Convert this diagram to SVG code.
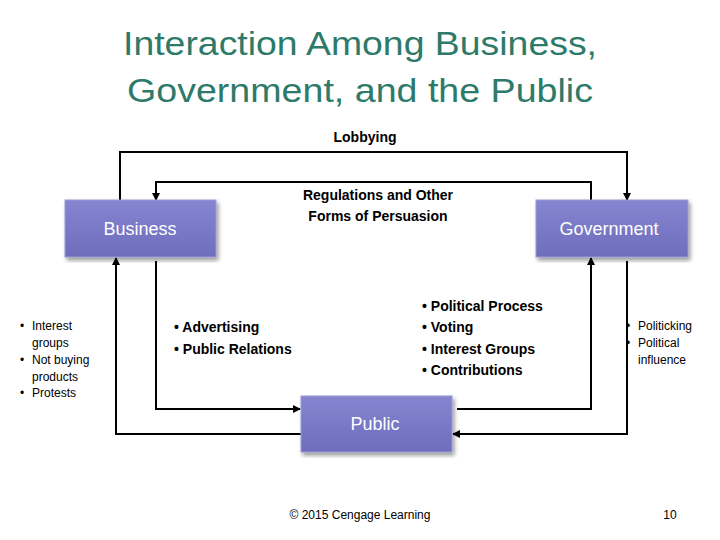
<svg xmlns="http://www.w3.org/2000/svg" width="720" height="540" viewBox="0 0 720 540">
<style>
.t{font-family:"Liberation Sans",Arial,sans-serif}
.box{fill:url(#g);stroke:#9a9ad0;stroke-width:1}
.bl{font-family:"Liberation Sans",Arial,sans-serif;font-size:18px;fill:#fff;text-anchor:middle}
.c{fill:none;stroke:#000;stroke-width:2;marker-end:url(#a)}
.s{font-family:"Liberation Sans",Arial,sans-serif;font-size:14px;font-weight:bold;fill:#000}
.xs{font-family:"Liberation Sans",Arial,sans-serif;font-size:12px;fill:#000}
</style>
<defs>
<linearGradient id="g" x1="0" y1="0" x2="0" y2="1"><stop offset="0" stop-color="#8585d2"/><stop offset="1" stop-color="#6d6dbb"/></linearGradient>
<filter id="sh"><feDropShadow dx="2" dy="3" stdDeviation="2" flood-opacity="0.4"/></filter>
<marker id="a" markerWidth="8" markerHeight="8" refX="7" refY="4" orient="auto" markerUnits="userSpaceOnUse"><path d="M0,0 L8,4 L0,8 z" fill="#000"/></marker>
</defs>
<rect width="720" height="540" fill="#fff"/>
<text class="t" x="360" y="55" font-size="34" fill="#2e7a6a" text-anchor="middle" textLength="474" lengthAdjust="spacingAndGlyphs">Interaction Among Business,</text>
<text class="t" x="360" y="102" font-size="34" fill="#2e7a6a" text-anchor="middle" textLength="466" lengthAdjust="spacingAndGlyphs">Government, and the Public</text>
<g id="connectors">
<polyline class="c" points="120,200 120,152 627,152 627,200"/>
<polyline class="c" points="591,200 591,182 156,182 156,200"/>
<polyline class="c" points="156,261 156,409 300,409"/>
<polyline class="c" points="301,434 116,434 116,258"/>
<polyline class="c" points="457,409 591,409 591,258"/>
<polyline class="c" points="627,261 627,434 453,434"/>
</g>
<g id="business"><rect class="box" x="65" y="200" width="151" height="57" filter="url(#sh)"/><text class="bl" x="140" y="235">Business</text></g>
<g id="government"><rect class="box" x="536" y="200" width="152" height="57" filter="url(#sh)"/><text class="bl" x="609" y="235">Government</text></g>
<g id="public"><rect class="box" x="301" y="396" width="151" height="56" filter="url(#sh)"/><text class="bl" x="375" y="430">Public</text></g>
<text class="s" x="365" y="142" text-anchor="middle">Lobbying</text>
<text class="s" x="378" y="200" text-anchor="middle">Regulations and Other</text>
<text class="s" x="378" y="221" text-anchor="middle">Forms of Persuasion</text>
<text class="s" x="174" y="332">• Advertising</text>
<text class="s" x="174" y="354">• Public Relations</text>
<text class="s" x="422" y="311">• Political Process</text>
<text class="s" x="422" y="332">• Voting</text>
<text class="s" x="422" y="354">• Interest Groups</text>
<text class="s" x="422" y="375">• Contributions</text>
<g class="xs">
<text x="20" y="330">•</text><text x="32" y="330">Interest</text><text x="32" y="347">groups</text>
<text x="20" y="364">•</text><text x="32" y="364">Not buying</text><text x="32" y="381">products</text>
<text x="20" y="397">•</text><text x="32" y="397">Protests</text>
<text x="626" y="330">•</text><text x="638" y="330">Politicking</text>
<text x="626" y="347">•</text><text x="638" y="347">Political</text><text x="638" y="364">influence</text>
</g>
<text class="xs" x="360" y="519" text-anchor="middle" fill="#555">© 2015 Cengage Learning</text>
<text class="xs" x="670" y="519" text-anchor="middle" fill="#555">10</text>
</svg>
